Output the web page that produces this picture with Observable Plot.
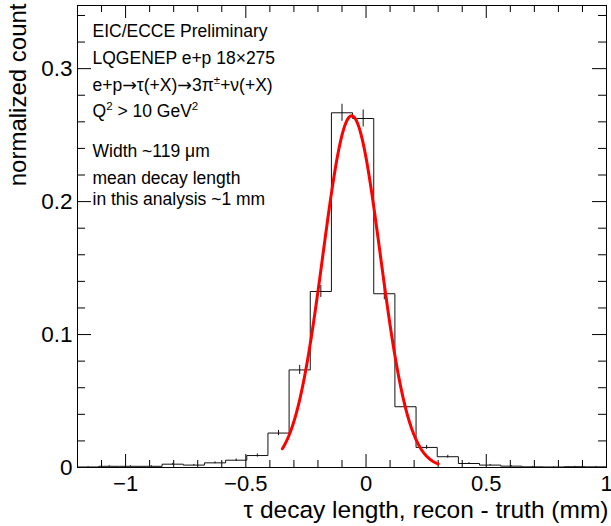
<!DOCTYPE html>
<html>
<head>
<meta charset="utf-8">
<script src="https://cdn.jsdelivr.net/npm/d3@7"></script>
<script src="https://cdn.jsdelivr.net/npm/@observablehq/plot@0.6"></script>
<style>
  html, body { margin: 0; padding: 0; background: #fff; }
</style>
</head>
<body>
<div id="chart"></div>
<script>
// Reconstructed minus true tau decay length: histogram (normalized), 25 bins over [-1.2, 1.0] mm
const binLow = [
  -1.200, -1.112, -1.024, -0.936, -0.848, -0.760, -0.672, -0.584, -0.496, -0.408,
  -0.320, -0.232, -0.144, -0.056,  0.032,  0.120,  0.208,  0.296,  0.384,  0.472,
   0.560,  0.648,  0.736,  0.824,  0.912
];
const binWidth = 0.088;
const binValue = [
  0.0004, 0.0009, 0.0009, 0.0009, 0.0025, 0.0018, 0.0035, 0.0055, 0.0090, 0.0259,
  0.0734, 0.1324, 0.2668, 0.2625, 0.1307, 0.0457, 0.0151, 0.0081, 0.0030, 0.0018,
  0.0010, 0.0005, 0.0004, 0.0006, 0.0005
];
const binError = [
  0.0003, 0.0004, 0.0004, 0.0004, 0.0006, 0.0005, 0.0007, 0.0009, 0.0012, 0.0020,
  0.0034, 0.0045, 0.0064, 0.0064, 0.0045, 0.0027, 0.0015, 0.0011, 0.0007, 0.0005,
  0.0004, 0.0003, 0.0003, 0.0003, 0.0003
];

// Gaussian fit to the core of the distribution
const fitAmplitude = 0.2645;
const fitMean = -0.060;
const fitSigma = 0.119;      // "Width ~119 µm"
const fitRange = [-0.348, 0.300];

// Axes
const xDomain = [-1.2, 1.0];
const yDomain = [0, 0.3475];
const xTicks = [-1, -0.5, 0, 0.5, 1];
const xTickLabels = ["\u22121", "\u22120.5", "0", "0.5", "1"];
const xMinorTicks = [-1.1, -0.9, -0.8, -0.7, -0.6, -0.4, -0.3, -0.2, -0.1, 0.1, 0.2, 0.3, 0.4, 0.6, 0.7, 0.8, 0.9];
const yTicks = [0, 0.1, 0.2, 0.3];
const yTickLabels = ["0", "0.1", "0.2", "0.3"];
const yMinorTicks = [0.02, 0.04, 0.06, 0.08, 0.12, 0.14, 0.16, 0.18, 0.22, 0.24, 0.26, 0.28, 0.32, 0.34];
const xTitle = "\u03C4 decay length, recon - truth (mm)";
const yTitle = "normalized count";

// Info block (^{...} marks a superscript)
const infoLines = [
  "EIC/ECCE Preliminary",
  "LQGENEP e+p 18\u00D7275",
  "e+p\u2192\u03C4(+X)\u21923\u03C0^{\u00B1}+\u03BD(+X)",
  "Q^{2} > 10 GeV^{2}",
  "Width ~119 \u03BCm",
  "mean decay length",
  "in this analysis ~1 mm"
];

// ---- layout ----
const W = 611, H = 526;
const mL = 77, mR = 5, mT = 5, mB = 59;
const frameW = W - mL - mR, frameH = H - mT - mB;
const infoBaselines = [36.7, 63.5, 90, 116.7, 156, 183.5, 204.5];
const infoSize = 17.5;
const font = "'Liberation Sans', Arial, Helvetica, sans-serif";

const bins = binLow.map((lo, i) => ({lo, center: lo + binWidth / 2, value: binValue[i], error: binError[i]}));
// step outline: one vertex per bin edge, closing at the upper edge of the last bin
const outline = bins.map(b => ({x: b.lo, y: b.value}))
  .concat([{x: binLow[binLow.length - 1] + binWidth, y: binValue[binValue.length - 1]}]);

const fitCurve = d3.range(fitRange[0], fitRange[1] + 1e-9, 0.003).map(x => ({
  x, y: fitAmplitude * Math.exp(-0.5 * ((x - fitMean) / fitSigma) ** 2)
}));

const plain = s => s.replace(/\^\{(.*?)\}/g, "$1");
const xLabelOf = new Map(xTicks.map((t, i) => [t, xTickLabels[i]]));
const yLabelOf = new Map(yTicks.map((t, i) => [t, yTickLabels[i]]));

const chart = Plot.plot({
  width: W, height: H,
  marginLeft: mL, marginRight: mR, marginTop: mT, marginBottom: mB,
  style: {fontFamily: font, fontSize: "17px", background: "#fff", color: "#000", overflow: "visible"},
  x: {domain: xDomain, axis: null},
  y: {domain: yDomain, axis: null},
  marks: [
    Plot.frame({stroke: "#000"}),
    // ticks drawn inward on all four sides
    Plot.tickX(xTicks, {x: d => d, insetTop: frameH - 13, stroke: "#000"}),
    Plot.tickX(xTicks, {x: d => d, insetBottom: frameH - 13, stroke: "#000"}),
    Plot.tickX(xMinorTicks, {x: d => d, insetTop: frameH - 7, stroke: "#000"}),
    Plot.tickX(xMinorTicks, {x: d => d, insetBottom: frameH - 7, stroke: "#000"}),
    Plot.tickY(yTicks, {y: d => d, insetRight: frameW - 14, stroke: "#000"}),
    Plot.tickY(yTicks, {y: d => d, insetLeft: frameW - 14, stroke: "#000"}),
    Plot.tickY(yMinorTicks, {y: d => d, insetRight: frameW - 8, stroke: "#000"}),
    Plot.tickY(yMinorTicks, {y: d => d, insetLeft: frameW - 8, stroke: "#000"}),
    Plot.axisX(xTicks, {anchor: "bottom", tickSize: 0, tickPadding: 8, fontSize: 22,
      tickFormat: d => xLabelOf.get(d), label: null}),
    Plot.axisY(yTicks, {anchor: "left", tickSize: 0, tickPadding: 5, fontSize: 22.5,
      tickFormat: d => yLabelOf.get(d), label: null}),
    // histogram outline and statistical errors
    Plot.line(outline, {x: "x", y: "y", curve: "step-after", stroke: "#111", strokeWidth: 1}),
    Plot.ruleX(bins, {x: "center", y1: d => d.value - d.error, y2: d => d.value + d.error, stroke: "#111", strokeWidth: 1}),
    // Gaussian fit
    Plot.line(fitCurve, {x: "x", y: "y", stroke: "#ff0000", strokeWidth: 3}),
    // axis titles
    Plot.text([xTitle], {frameAnchor: "bottom-right", text: d => d, textAnchor: "end", lineAnchor: "bottom",
      dx: 2, dy: 50, fontSize: 24.5, fill: "#000"}),
    Plot.text([yTitle], {frameAnchor: "top-left", text: d => d, textAnchor: "end", lineAnchor: "bottom",
      rotate: -90, dx: -52, dy: -2, fontSize: 24, fill: "#000"}),
    // info block
    ...infoLines.map((line, i) => Plot.text([line], {
      frameAnchor: "top-left", text: d => plain(d), textAnchor: "start", lineAnchor: "bottom",
      dx: 15, dy: infoBaselines[i] - mT, fontSize: infoSize, fill: "#000"
    }))
  ]
});

// rich text for the info block: ^{...} becomes a raised, smaller tspan; arrows use a font with long arrows
(function richText(svg, lines) {
  const ns = "http://www.w3.org/2000/svg";
  const bySource = new Map(lines.filter(s => /\^\{|\u2192/.test(s)).map(s => [plain(s), s]));
  for (const el of svg.querySelectorAll("text")) {
    const src = bySource.get(el.textContent);
    if (!src) continue;
    el.textContent = "";
    let raised = false;
    for (const part of src.split(/(\^\{.*?\}|\u2192)/)) {
      if (!part) continue;
      const t = document.createElementNS(ns, "tspan");
      if (part.startsWith("^{")) {
        t.textContent = part.slice(2, -1);
        t.setAttribute("font-size", "11.5");
        t.setAttribute("dy", "-7");
        raised = true;
      } else {
        t.textContent = part;
        if (part === "\u2192") t.setAttribute("font-family", "'DejaVu Sans', sans-serif");
        if (raised) { t.setAttribute("dy", "7"); raised = false; }
      }
      el.appendChild(t);
    }
  }
})(chart, infoLines);

document.getElementById("chart").appendChild(chart);
</script>
</body>
</html>
